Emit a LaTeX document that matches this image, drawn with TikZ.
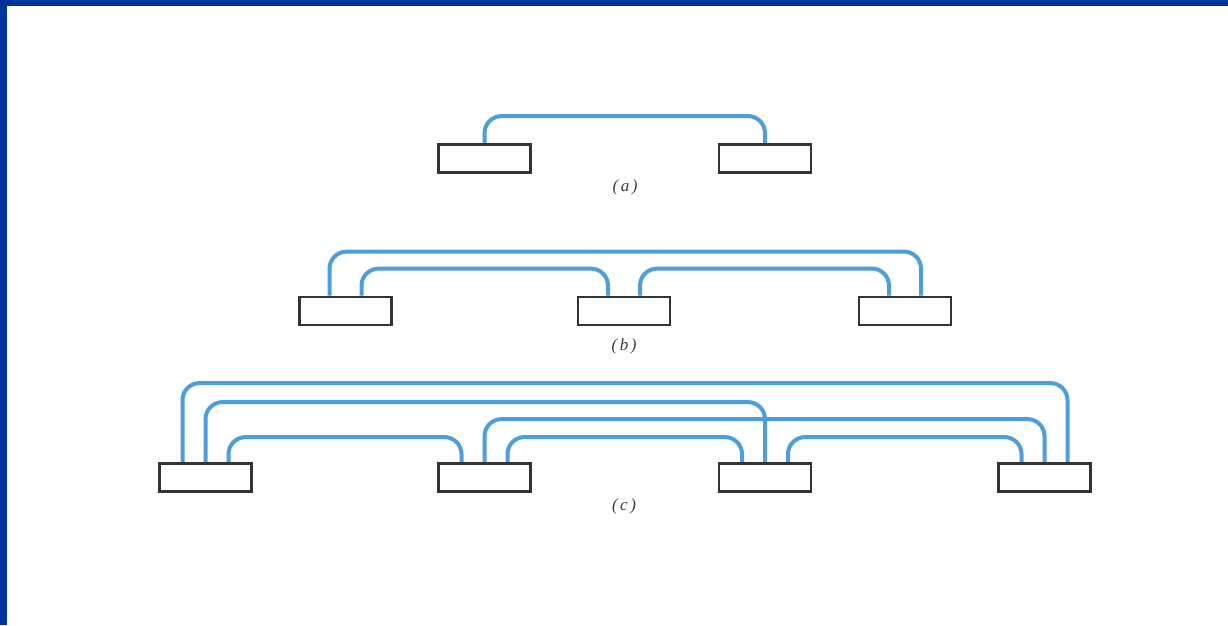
\documentclass[tikz,border=0pt]{standalone}
\usepackage{fontspec}
\setmainfont{Liberation Serif}
\usepackage{xcolor}
\usepackage{tikz}
\usetikzlibrary{backgrounds}
\definecolor{framebar}{HTML}{003399}
\definecolor{wireblue}{HTML}{4C9FDC}
\definecolor{boxedge}{HTML}{333333}
\definecolor{captiongray}{HTML}{3C3C3C}
\tikzset{
    unitbox/.style={draw=boxedge, fill=white, line width=2.8pt, inner sep=0pt,
                    minimum width=92pt, minimum height=28pt},
    wire/.style={draw=wireblue, line width=4pt, rounded corners=17pt},
    caption/.style={text=captiongray, font=\fontsize{17}{17}\selectfont\itshape}
}

\begin{document}
\begin{tikzpicture}[x=1pt, y=-1pt]
    \useasboundingbox (0,0) rectangle (1228,625);

    % (a)
    \node[unitbox] (a1) at (484.5,158.5) {};
    \node[unitbox] (a2) at (765,158.5) {};
    \node[caption] (capa) at (625,187) {(\hspace{2.5pt}a\hspace{2.5pt})};

    % (b)
    \foreach \i/\x in {1/345.5, 2/624, 3/905}
        \node[unitbox] (b\i) at (\x,311) {};
    \node[caption] (capb) at (624,346) {(\hspace{2.5pt}b\hspace{2.5pt})};

    % (c)
    \foreach \i/\x in {1/205.5, 2/484.5, 3/765, 4/1044.5}
        \node[unitbox] (c\i) at (\x,477.5) {};
    \node[caption] (capc) at (624,506) {(\hspace{2.5pt}c\hspace{2.5pt})};

    \begin{scope}[on background layer]
        \fill[white] (0,0) rectangle (1228,625);
        \fill[framebar] (0,0) rectangle (1228,6);
        \fill[framebar] (0,0) rectangle (7,625);

        \draw[wire] (a1.north) -- ++(0,-27) -| (a2.north);

        \draw[wire] ([xshift=-16pt]b1.north) -- ++(0,-44) -| ([xshift=16pt]b3.north);
        \draw[wire] ([xshift=16pt]b1.north) -- ++(0,-27) -| ([xshift=-16pt]b2.north);
        \draw[wire] ([xshift=16pt]b2.north) -- ++(0,-27) -| ([xshift=-16pt]b3.north);

        \draw[wire] ([xshift=-23pt]c1.north) -- ++(0,-79) -| ([xshift=23pt]c4.north);
        \draw[wire] (c2.north) -- ++(0,-43) -| (c4.north);
        \draw[wire] (c1.north) -- ++(0,-60) -| (c3.north);
        \draw[wire] ([xshift=23pt]c1.north) -- ++(0,-25) -| ([xshift=-23pt]c2.north);
        \draw[wire] ([xshift=23pt]c2.north) -- ++(0,-25) -| ([xshift=-23pt]c3.north);
        \draw[wire] ([xshift=23pt]c3.north) -- ++(0,-25) -| ([xshift=-23pt]c4.north);
    \end{scope}
\end{tikzpicture}
\end{document}
